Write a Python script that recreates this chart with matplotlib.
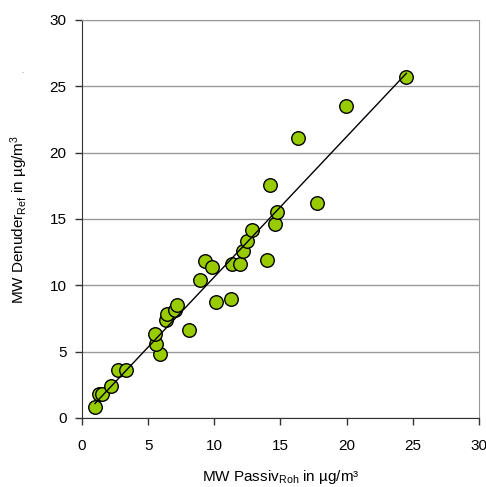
import matplotlib
matplotlib.use("Agg")
import matplotlib.pyplot as plt
import numpy as np

plt.rcParams['font.family'] = ['Liberation Sans', 'DejaVu Sans']
plt.rcParams['mathtext.fontset'] = 'custom'
plt.rcParams['mathtext.rm'] = 'Liberation Sans'
plt.rcParams['mathtext.default'] = 'regular'

# Monatsmittelwerte Passivsammler (roh) gegen Denuder (Referenz)
passiv = [0.98, 1.28, 1.54, 2.19, 2.75, 3.33, 5.92, 5.59, 5.49, 6.32, 6.42,
          7.05, 7.16, 8.11, 8.94, 9.32, 9.83, 10.15, 11.29, 11.34, 11.97,
          12.19, 12.47, 12.83, 14.01, 14.23, 14.61, 14.74, 16.30, 17.76,
          19.93, 24.51]
denuder = [0.85, 1.81, 1.81, 2.41, 3.62, 3.62, 4.80, 5.58, 6.36, 7.41, 7.81,
           8.16, 8.54, 6.61, 10.42, 11.85, 11.36, 8.77, 8.99, 11.63, 11.63,
           12.58, 13.34, 14.17, 11.88, 17.53, 14.64, 15.50, 21.12, 16.20,
           23.53, 25.70]
ticks = [0, 5, 10, 15, 20, 25, 30]

x = np.array(passiv)
y = np.array(denuder)
k, d = np.polyfit(x, y, 1)
xl = np.array([x.min(), x.max()])

fig = plt.figure(figsize=(4.86, 4.87), dpi=100)
ax = fig.add_axes([0.1687, 0.1417, 0.8169, 0.8173])

ax.scatter(x, y, s=95, c='#99cc00', edgecolors='black', linewidths=1.0, zorder=3)
ax.plot(xl, k * xl + d, color='black', lw=1.0, zorder=4)

ax.set_xlim(0, 30)
ax.set_ylim(0, 30)
ax.set_xticks(ticks)
ax.set_yticks(ticks)
ax.yaxis.grid(True, color='#999999', lw=1.0)
ax.set_axisbelow(True)

for s in ['top', 'right']:
    ax.spines[s].set_color('#999999')
for s in ['left', 'bottom']:
    ax.spines[s].set_color('#333333')
ax.tick_params(direction='out', length=5, width=1, color='#333333',
               labelsize=11, pad=6)
ax.tick_params(axis='x', pad=10)

ax.set_xlabel('MW Passiv$_{Roh}$ in µg/m³', fontsize=11, labelpad=11)
ax.set_ylabel('MW Denuder$_{Ref}$ in µg/m$^{3}$', fontsize=11, labelpad=14)
fig.text(0.043, 0.85, '.', fontsize=5, color='#555555')

fig.savefig('out.png', dpi=100)
